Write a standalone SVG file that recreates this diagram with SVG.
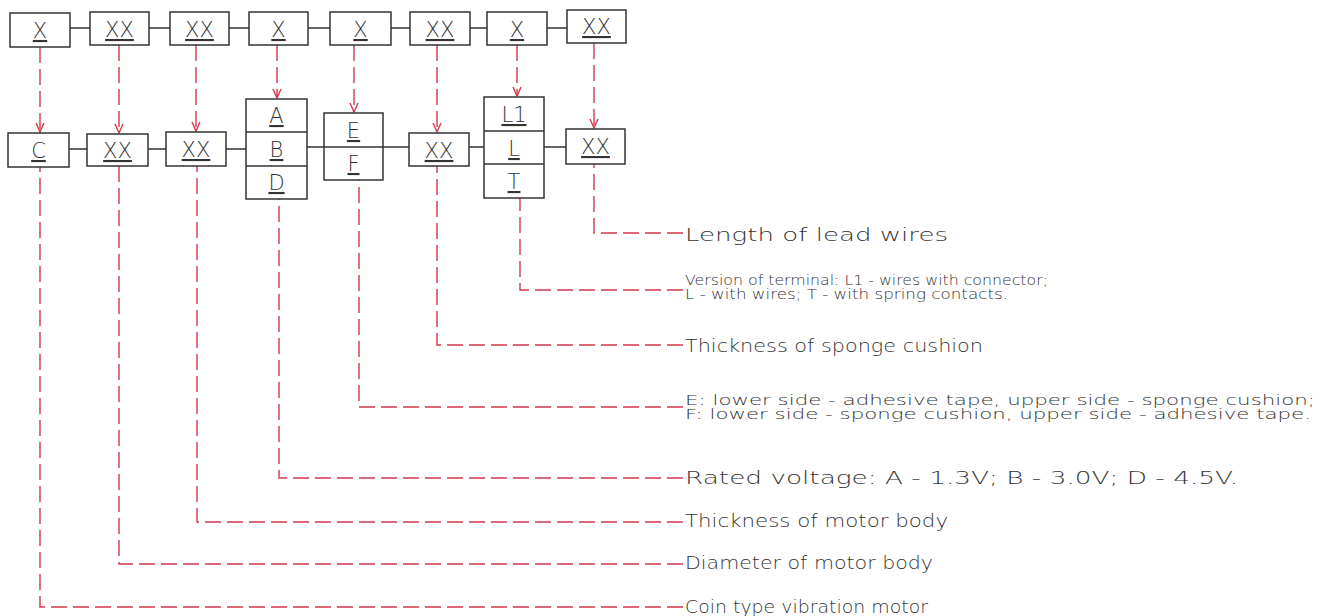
<svg xmlns="http://www.w3.org/2000/svg" width="1318" height="616" viewBox="0 0 1318 616">
<defs>
<style>
.box{fill:#fff;stroke:#333;stroke-width:1.5}
.link{stroke:#333;stroke-width:1.5;fill:none}
.code{font-family:"DejaVu Sans","Liberation Sans",sans-serif;font-weight:200;font-size:21px;fill:#333;text-anchor:middle;text-decoration:underline}
.lead{stroke:#d2394c;stroke-width:1.4;fill:none;stroke-dasharray:16 6}
.arr{marker-end:url(#ah)}
.lbl{font-family:"DejaVu Sans","Liberation Sans",sans-serif;font-weight:200;font-size:18px;fill:#333}
.sm{font-size:14.5px}
</style>
<marker id="ah" viewBox="-10 -6 12 12" refX="0" refY="0" markerWidth="12" markerHeight="12" markerUnits="userSpaceOnUse" orient="auto">
<path d="M-9,-4 L0,0 L-9,4" fill="none" stroke="#d2394c" stroke-width="1.4"/>
</marker>
</defs>
<rect width="1318" height="616" fill="#fff"/>

<g id="connectors">
<path class="link" d="M70,28H90 M149,28H170 M229,28H249 M308,28H330 M391,28H410 M470,28H487 M547,28H567"/>
<path class="link" d="M69,149H87 M148,149H166 M226,149H246 M307,147H324 M383,147H409 M469,147H484 M544,147H566"/>
<path class="lead arr" d="M40,47V132"/>
<path class="lead arr" d="M119,45V133"/>
<path class="lead arr" d="M196,45V131"/>
<path class="lead arr" d="M277,45V98"/>
<path class="lead arr" d="M354,45V112"/>
<path class="lead arr" d="M437,45V132"/>
<path class="lead arr" d="M517,45V96"/>
<path class="lead arr" d="M594,43V128"/>
<path class="lead" d="M683,233H594V155"/>
<path class="lead" d="M683,290H520V190"/>
<path class="lead" d="M683,345H437V159"/>
<path class="lead" d="M683,407H359V173"/>
<path class="lead" d="M683,478H279V192"/>
<path class="lead" d="M683,522H197V158"/>
<path class="lead" d="M683,564H119V158"/>
<path class="lead" d="M683,607H40V158"/>
</g>

<g id="top1"><rect class="box" x="10" y="13" width="60" height="34"/><text class="code" x="40" y="38">X</text></g>
<g id="top2"><rect class="box" x="90" y="12" width="59" height="33"/><text class="code" x="119.5" y="37">XX</text></g>
<g id="top3"><rect class="box" x="170" y="12" width="59" height="33"/><text class="code" x="199.5" y="37">XX</text></g>
<g id="top4"><rect class="box" x="249" y="12" width="59" height="33"/><text class="code" x="278.5" y="37">X</text></g>
<g id="top5"><rect class="box" x="330" y="12" width="61" height="33"/><text class="code" x="360.5" y="37">X</text></g>
<g id="top6"><rect class="box" x="410" y="12" width="60" height="33"/><text class="code" x="440" y="37">XX</text></g>
<g id="top7"><rect class="box" x="487" y="12" width="60" height="33"/><text class="code" x="517" y="37">X</text></g>
<g id="top8"><rect class="box" x="567" y="10" width="59" height="33"/><text class="code" x="596.5" y="34">XX</text></g>

<g id="motor-type"><rect class="box" x="8" y="133" width="61" height="34"/><text class="code" x="38.5" y="158">C</text></g>
<g id="diameter"><rect class="box" x="87" y="134" width="61" height="32"/><text class="code" x="117.5" y="158">XX</text></g>
<g id="thickness"><rect class="box" x="166" y="132" width="60" height="34"/><text class="code" x="196" y="157">XX</text></g>
<g id="voltage"><rect class="box" x="246" y="99" width="61" height="100"/><path class="link" d="M246,132H307 M246,166H307"/>
<text class="code" x="276.5" y="123">A</text><text class="code" x="276.5" y="157">B</text><text class="code" x="276.5" y="190">D</text></g>
<g id="tape"><rect class="box" x="324" y="113" width="59" height="67"/><path class="link" d="M324,147H383"/>
<text class="code" x="353.5" y="138">E</text><text class="code" x="353.5" y="171">F</text></g>
<g id="sponge"><rect class="box" x="409" y="133" width="60" height="33"/><text class="code" x="439" y="158">XX</text></g>
<g id="terminal"><rect class="box" x="484" y="97" width="60" height="101"/><path class="link" d="M484,131H544 M484,164H544"/>
<text class="code" x="514" y="122">L1</text><text class="code" x="514" y="156">L</text><text class="code" x="514" y="189">T</text></g>
<g id="lead-length"><rect class="box" x="566" y="129" width="59" height="35"/><text class="code" x="595.5" y="154">XX</text></g>

<g id="labels">
<text class="lbl" x="685" y="241" textLength="263" lengthAdjust="spacingAndGlyphs">Length of lead wires</text>
<text class="lbl sm" x="685" y="285" textLength="363" lengthAdjust="spacingAndGlyphs">Version of terminal: L1 - wires with connector;</text>
<text class="lbl sm" x="685" y="299" textLength="323" lengthAdjust="spacingAndGlyphs">L - with wires; T - with spring contacts.</text>
<text class="lbl" x="685" y="352" textLength="298" lengthAdjust="spacingAndGlyphs">Thickness of sponge cushion</text>
<text class="lbl sm" x="685" y="405" textLength="630" lengthAdjust="spacingAndGlyphs">E: lower side - adhesive tape, upper side - sponge cushion;</text>
<text class="lbl sm" x="685" y="419" textLength="626" lengthAdjust="spacingAndGlyphs">F: lower side - sponge cushion, upper side - adhesive tape.</text>
<text class="lbl" x="685" y="484" textLength="553" lengthAdjust="spacingAndGlyphs">Rated voltage: A - 1.3V; B - 3.0V; D - 4.5V.</text>
<text class="lbl" x="685" y="527" textLength="263" lengthAdjust="spacingAndGlyphs">Thickness of motor body</text>
<text class="lbl" x="685" y="569" textLength="248" lengthAdjust="spacingAndGlyphs">Diameter of motor body</text>
<text class="lbl" x="685" y="613" textLength="243" lengthAdjust="spacingAndGlyphs">Coin type vibration motor</text>
</g>
</svg>
